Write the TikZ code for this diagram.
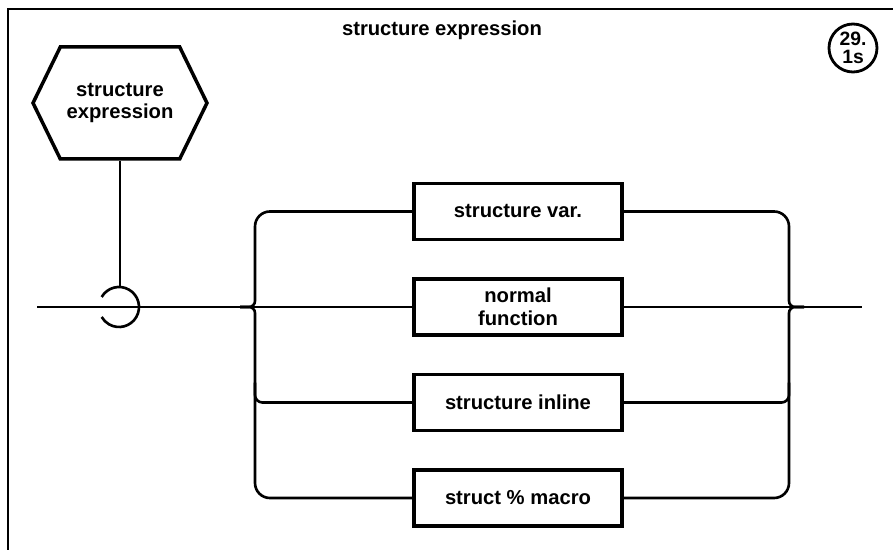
\documentclass[tikz,border=0pt]{standalone}
\usepackage{fontspec}
\setmainfont{Liberation Sans}
\usetikzlibrary{shapes.symbols, positioning, calc}

\begin{document}
\begin{tikzpicture}[
	hexnode/.style={signal,signal to=west and east,signal pointer angle=128,draw,line width=2pt,minimum width=3.48cm,minimum height=2.24cm,inner sep=2pt,align=center},
	boxnode/.style={rectangle,draw,line width=2pt,minimum width=4.16cm,minimum height=1.12cm,inner sep=2pt,align=center},
	conn/.style={line width=1.5pt},
	every node/.style={font=\bfseries\fontsize{11.5}{13}\selectfont}
]
\useasboundingbox (0,0) rectangle (17.86,11);

% Frame and title
\draw[line width=1.6pt] (0.16,0) -- (0.16,10.82) -- (17.86,10.82);
\node (title) at (8.84,10.4) {structure expression};
\node[circle,draw,line width=1.6pt,minimum size=0.96cm,inner sep=0pt,align=center,font=\bfseries\fontsize{11}{11}\selectfont] (sheet) at (17.06,10.04) {29.\\[-1pt]1s};

% Defined construct
\node[hexnode] (hex) at (2.4,8.94) {structure\\expression};
\coordinate (loop) at (2.38,4.86);
\coordinate (looptop) at (2.38,5.26);
\draw[conn] (hex.south) -- (hex.south |- looptop);
\draw[conn] ($(loop)+(150:0.4)$) arc[start angle=150,end angle=-150,radius=0.4];

% Alternatives
\node[boxnode] (normal) at (10.36,4.86) {normal\\function};
\node[boxnode, above=0.72cm of normal] (var) {structure var.};
\node[boxnode, below=0.72cm of normal] (inline) {structure inline};
\node[boxnode, below=0.72cm of inline] (macro) {struct \% macro};

% Main line
\coordinate (start) at (0.74,4.86);
\coordinate (stop) at (17.24,4.86);
\coordinate (jl) at (5.1,4.86);
\coordinate (jr) at (15.78,4.86);
\draw[conn] (start) -- (normal.west);
\draw[conn] (normal.east) -- (stop);

% Left branches
\draw[conn] ($(jl)+(-0.3,0)$) [rounded corners=0.12cm] -- (jl) [rounded corners=0.3cm] |- (var.west);
\draw[conn] ($(jl)+(-0.3,0)$) [rounded corners=0.12cm] -- (jl) [rounded corners=0.3cm] |- (macro.west);
\draw[conn, rounded corners=0.15cm] ($(jl |- inline)+(0,0.4)$) |- (inline.west);

% Right branches
\draw[conn] ($(jr)+(0.3,0)$) [rounded corners=0.12cm] -- (jr) [rounded corners=0.3cm] |- (var.east);
\draw[conn] ($(jr)+(0.3,0)$) [rounded corners=0.12cm] -- (jr) [rounded corners=0.3cm] |- (macro.east);
\draw[conn, rounded corners=0.15cm] (inline.east) -| ($(jr |- inline)+(0,0.4)$);

\end{tikzpicture}
\end{document}
